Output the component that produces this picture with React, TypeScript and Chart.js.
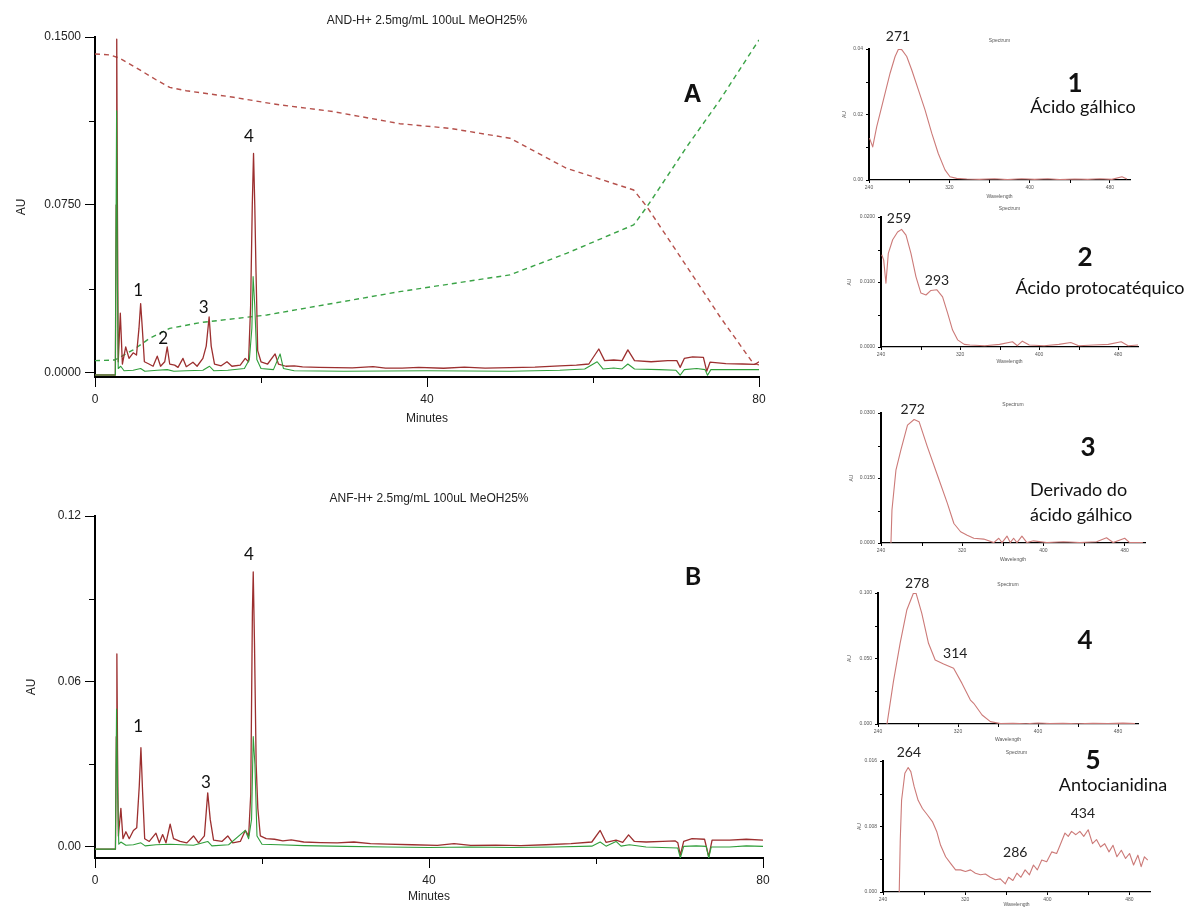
import React, { useEffect, useRef } from "react";
import { Chart, registerables } from "chart.js";

Chart.register(...registerables);

type Pt = [number, number];

// ================= Chromatogram axes =================
const minutesTicks = [0, 20, 40, 60, 80];
const minutesLabels = [0, 40, 80];
const auTicksA = [0, 0.0375, 0.075, 0.1125, 0.15];
const auLabelsA = [0, 0.075, 0.15];
const auTicksB = [0, 0.03, 0.06, 0.09, 0.12];
const auLabelsB = [0, 0.06, 0.12];

// ================= Chromatogram A (AND-H+) =================
const titleA = "AND-H+ 2.5mg/mL 100uL MeOH25%";
const redTraceA: Pt[] = [
  [0, -0.0009], [2.45, -0.0009], [2.55, 0.075], [2.62, 0.149], [2.7, 0.075], [2.8, 0.005],
  [3.05, 0.0267], [3.3, 0.004], [3.7, 0.0116], [4.1, 0.0065], [4.6, 0.009], [5.0, 0.008],
  [5.3, 0.02], [5.5, 0.031], [5.7, 0.02], [5.95, 0.005], [6.5, 0.004], [7.0, 0.003],
  [7.5, 0.0075], [7.9, 0.003], [8.4, 0.005], [8.7, 0.0116], [9.0, 0.004], [9.6, 0.0035],
  [10.0, 0.0025], [10.6, 0.0065], [11.0, 0.0028], [11.8, 0.0048], [12.3, 0.003], [13.0, 0.0065],
  [13.4, 0.012], [13.75, 0.025], [14.0, 0.012], [14.4, 0.004], [15.2, 0.0032], [15.9, 0.005],
  [16.5, 0.003], [17.5, 0.0035], [18.1, 0.0065], [18.5, 0.005], [18.75, 0.03], [18.95, 0.075],
  [19.1, 0.098], [19.25, 0.075], [19.4, 0.045], [19.6, 0.01], [20.0, 0.005], [20.8, 0.004],
  [21.7, 0.0085], [22.1, 0.004], [23, 0.003], [24, 0.0032], [25, 0.0027], [27, 0.0025],
  [29, 0.0024], [31, 0.0023], [33.5, 0.0028], [35, 0.0022], [37, 0.0022], [39, 0.0025],
  [42, 0.0021], [44.5, 0.0026], [47, 0.0022], [50, 0.0024], [53, 0.0026], [56, 0.0032],
  [58, 0.0035], [59.5, 0.004], [60.7, 0.0107], [61.4, 0.0055], [62.5, 0.0058], [63.5, 0.0055],
  [64.2, 0.0103], [65, 0.0055], [67, 0.005], [69, 0.0055], [70.1, 0.0055], [70.5, 0.0025],
  [71, 0.0065], [72, 0.0072], [73.3, 0.007], [73.7, 0.0008], [74.1, 0.0048], [76, 0.0042],
  [78, 0.004], [79.5, 0.0038], [80, 0.005],
];
const greenTraceA: Pt[] = [
  [0, -0.0009], [2.45, -0.0009], [2.6, 0.117], [2.7, 0.04], [2.8, 0.002], [3.1, 0.003],
  [3.5, 0.001], [4.6, 0.0012], [5.5, 0.002], [6, 0.0008], [7.5, 0.0012], [8.7, 0.0015],
  [9.5, 0.0008], [11, 0.001], [13, 0.0012], [13.8, 0.003], [14.3, 0.001], [16, 0.0012],
  [18, 0.002], [18.6, 0.006], [18.9, 0.02], [19.05, 0.043], [19.25, 0.03], [19.5, 0.006],
  [20, 0.002], [21.5, 0.0015], [22.3, 0.0085], [22.7, 0.002], [24, 0.001], [30, 0.0008],
  [40, 0.001], [50, 0.0008], [56, 0.0012], [59, 0.0018], [60.5, 0.005], [61.2, 0.0018],
  [62.5, 0.0022], [63.5, 0.0018], [64.2, 0.004], [65, 0.0018], [68, 0.0015], [70, 0.0012],
  [70.5, -0.001], [71, 0.0015], [72.5, 0.002], [73.5, 0.0015], [73.8, -0.001], [74.2, 0.0015],
  [80, 0.0015],
];
const redGradientA: Pt[] = [
  [0, 0.1424], [1.8, 0.142], [3, 0.1405], [5.4, 0.1353], [7.4, 0.1308], [9, 0.1275],
  [11, 0.126], [16.7, 0.1231], [21.5, 0.1201], [28.7, 0.1167], [36.7, 0.1113], [42.8, 0.1092],
  [50, 0.1048], [56.8, 0.0914], [64.9, 0.0817], [66.5, 0.0742], [71.3, 0.0475], [75.3, 0.0251],
  [79.3, 0.0043], [80, 0.0036],
];
const greenGradientA: Pt[] = [
  [0, 0.0055], [2.4, 0.0058], [4.6, 0.0103], [6.6, 0.0155], [9, 0.0199], [12.7, 0.0225],
  [20.7, 0.0259], [28.7, 0.0311], [36.7, 0.0363], [50, 0.0438], [56.8, 0.0534], [64.9, 0.0661],
  [66.5, 0.0742], [71.3, 0.101], [75.3, 0.1219], [80, 0.1487],
];
const peakNamesA = ["1", "2", "3", "4"];
const peakLabelPosA: Pt[] = [[5.2, 0.037], [8.2, 0.0156], [13.1, 0.029], [18.55, 0.1054]];
const panelPosA: Pt = [72.0, 0.1241];

// ================= Chromatogram B (ANF-H+) =================
const titleB = "ANF-H+ 2.5mg/mL 100uL MeOH25%";
const redTraceB: Pt[] = [
  [0, -0.0008], [2.45, -0.0008], [2.55, 0.04], [2.62, 0.07], [2.7, 0.035], [2.8, 0.004],
  [3.1, 0.014], [3.35, 0.003], [3.7, 0.0055], [4.1, 0.003], [4.6, 0.006], [5.0, 0.007],
  [5.3, 0.022], [5.5, 0.036], [5.7, 0.02], [5.95, 0.003], [6.5, 0.002], [7.3, 0.005],
  [7.7, 0.0015], [8.1, 0.0045], [8.5, 0.0015], [9.0, 0.0083], [9.4, 0.003], [10.2, 0.002],
  [11.0, 0.0015], [11.8, 0.004], [12.4, 0.0015], [13.1, 0.004], [13.5, 0.0196], [13.8, 0.01],
  [14.2, 0.0025], [15.2, 0.002], [15.9, 0.004], [16.5, 0.0015], [17.4, 0.002], [18.0, 0.006],
  [18.4, 0.004], [18.65, 0.019], [18.85, 0.085], [18.95, 0.0997], [19.1, 0.074], [19.3, 0.03],
  [19.5, 0.014], [19.8, 0.004], [20.5, 0.003], [21.5, 0.0028], [22.5, 0.0022], [23.5, 0.0026],
  [25, 0.0018], [27, 0.0016], [29, 0.0015], [31, 0.0018], [33, 0.0012], [35, 0.001],
  [38, 0.0008], [41, 0.0006], [43, 0.0012], [45, 0.0006], [48, 0.0007], [51, 0.0005],
  [54, 0.0008], [57, 0.0012], [59.5, 0.0018], [60.5, 0.006], [61.2, 0.0017], [62.4, 0.0025],
  [63.2, 0.0017], [63.9, 0.0044], [64.6, 0.002], [66, 0.0018], [68, 0.002], [69.5, 0.0022],
  [69.8, 0.0015], [70.1, -0.003], [70.5, 0.002], [71.5, 0.003], [73.0, 0.0028], [73.5, -0.0035],
  [73.9, 0.0025], [76, 0.0025], [78, 0.0028], [80, 0.0025],
];
const greenTraceB: Pt[] = [
  [0, -0.0008], [2.45, -0.0008], [2.58, 0.05], [2.7, 0.02], [2.85, 0.001], [3.1, 0.0018],
  [3.7, 0.0006], [4.6, 0.0008], [5.5, 0.0015], [6, 0.0004], [7.3, 0.0008], [9, 0.001],
  [11.8, 0.0006], [13.5, 0.002], [14, 0.0004], [16, 0.0008], [18, 0.006], [18.4, 0.003],
  [18.75, 0.01], [18.95, 0.04], [19.15, 0.03], [19.4, 0.004], [20, 0.001], [22, 0.0008],
  [25, 0.0005], [30, 0.0002], [35, 0.0], [40, -0.0002], [45, 0.0], [50, -0.0002], [55, 0.0],
  [59.5, 0.0003], [60.5, 0.0018], [61.2, 0.0003], [62.4, 0.002], [63, 0.0003], [64, 0.0008],
  [66, 0.0], [69.8, -0.0004], [70.1, -0.004], [70.5, 0.0002], [72, 0.0004], [73.2, 0.0002],
  [73.5, -0.004], [73.8, 0.0], [76, 0.0], [78, 0.0004], [80, 0.0002],
];
const peakNamesB = ["1", "3", "4"];
const peakLabelPosB: Pt[] = [[5.18, 0.0435], [13.3, 0.0232], [18.44, 0.1059]];
const panelPosB: Pt = [71.6, 0.0979];

// ================= UV spectra =================
const wavelengthTicks = [240, 280, 320, 360, 400, 440, 480];
const wavelengthLabels = [240, 320, 400, 480];

const spectrum1: Pt[] = [
  [240.5, 0.0128], [243.7, 0.0101], [247.7, 0.0163], [254.3, 0.0244], [261, 0.0326], [266, 0.0377],
  [269.3, 0.0399], [272.6, 0.0398], [277.6, 0.0377], [282.6, 0.0336], [289.2, 0.0275], [295.8, 0.0214],
  [302.5, 0.0143], [309, 0.0081], [315.7, 0.0031], [320.7, 0.001], [327.3, 0.0005], [337.4, 0.0003],
  [350, 0.0002], [365, 0.0004], [378, 0.0001], [392, 0.0004], [405, 0.0002], [418, 0.0004],
  [430, 0.0001], [445, 0.0003], [458, 0.0002], [470, 0.0004], [482, 0.0002], [492, 0.001], [497, 0.0003],
];
const spectrum1Ticks = [0, 0.01, 0.02, 0.03, 0.04];
const spectrum1Labels = [0, 0.02, 0.04];

const spectrum2: Pt[] = [
  [240.7, 0.0142], [242.7, 0.0134], [245, 0.0098], [247.4, 0.0144], [251.8, 0.0165], [256.8, 0.0177],
  [260.8, 0.0181], [265.3, 0.0172], [270.3, 0.0144], [275.4, 0.0108], [280.4, 0.0083], [285.5, 0.008],
  [290.5, 0.0087], [296.6, 0.0088], [302.3, 0.0077], [307.4, 0.0052], [312.4, 0.0026], [317.5, 0.0011],
  [324.2, 0.0004], [330, 0.0003], [345, 0.0002], [360, 0.0004], [373, 0.0008], [378, 0.0002],
  [383, 0.0009], [390, 0.0003], [405, 0.0002], [420, 0.0004], [432, 0.0007], [440, 0.0002],
  [455, 0.0003], [470, 0.0004], [483, 0.0008], [490, 0.0002], [500, 0.0003],
];
const spectrum2Ticks = [0, 0.005, 0.01, 0.015, 0.02];
const spectrum2Labels = [0, 0.01, 0.02];

const spectrum3: Pt[] = [
  [249.8, 0], [250.8, 0.0076], [254.7, 0.0168], [259.6, 0.0215], [266.1, 0.0272], [272.6, 0.0285],
  [277.5, 0.028], [285.7, 0.0222], [295.5, 0.0157], [305.3, 0.0092], [311.8, 0.0045], [318.4, 0.0026],
  [324.9, 0.0018], [331.4, 0.0011], [341.2, 0.0009], [351, 0.0001], [356, 0.0011], [359.2, 0.0001],
  [364.1, 0.0016], [367.3, 0.0001], [370.6, 0.0011], [373.9, 0.0001], [378.8, 0.0016], [383.7, 0.0001],
  [390.2, 0.0005], [403.3, 0.0001], [419.6, 0.0003], [435.9, 0.0001], [452.3, 0.0003], [462.1, 0.0012],
  [468.6, 0.0001], [480, 0.0011], [484.9, 0.0001], [497.9, 0.0001],
];
const spectrum3Ticks = [0, 0.0075, 0.015, 0.0225, 0.03];
const spectrum3Labels = [0, 0.015, 0.03];

const spectrum4: Pt[] = [
  [249, 0], [251, 0.01], [255.4, 0.0323], [262.1, 0.0616], [268.8, 0.087], [275.4, 0.0998],
  [278.1, 0.0997], [283.8, 0.0845], [290.5, 0.0616], [297.2, 0.0488], [305.6, 0.0458], [315.6, 0.0425],
  [324, 0.031], [332.4, 0.0183], [335.7, 0.0158], [344.1, 0.0069], [352.4, 0.0018], [362.5, 0.0003],
  [375, 0.0006], [388, 0.0002], [400, 0.0008], [412, 0.0003], [425, 0.0006], [440, 0.0002],
  [455, 0.0005], [470, 0.0003], [485, 0.0007], [497, 0.0004],
];
const spectrum4Ticks = [0, 0.025, 0.05, 0.075, 0.1];
const spectrum4Labels = [0, 0.05, 0.1];

const spectrum5: Pt[] = [
  [255.8, 0], [256.8, 0.0063], [258.1, 0.0112], [261.3, 0.0145], [264.5, 0.0152], [267.1, 0.0147],
  [270.3, 0.0129], [274.2, 0.0112], [278.4, 0.0102], [283.3, 0.0094], [288.1, 0.0086], [292.3, 0.0074],
  [296.1, 0.0057], [301, 0.0043], [305.8, 0.0035], [310.7, 0.0027], [315.5, 0.0027], [320.3, 0.0025],
  [325.2, 0.0027], [330, 0.0023], [334.9, 0.0021], [339.7, 0.0022], [344.5, 0.0018], [349.4, 0.0015],
  [354.2, 0.0016], [359.1, 0.001], [362.3, 0.0018], [366.5, 0.0014], [370.4, 0.0023], [374.3, 0.0018],
  [378.4, 0.0027], [382.6, 0.0021], [386.5, 0.0033], [390.3, 0.0027], [394.6, 0.0039], [399.4, 0.0037],
  [404.3, 0.0049], [409.1, 0.0047], [413, 0.0059], [417.2, 0.0072], [420.4, 0.0068], [423.6, 0.0074],
  [427.8, 0.007], [431.7, 0.0074], [435.5, 0.0068], [439.8, 0.0076], [444, 0.0059], [447.9, 0.0064],
  [451.8, 0.0055], [455.9, 0.0059], [460.1, 0.0049], [464, 0.0057], [467.8, 0.0043], [472.1, 0.0051],
  [476.2, 0.0041], [480.1, 0.0047], [484, 0.0033], [488.2, 0.0045], [491.4, 0.0031], [494.6, 0.0043],
  [497.8, 0.0039],
];
const spectrum5Ticks = [0, 0.004, 0.008, 0.012, 0.016];
const spectrum5Labels = [0, 0.008, 0.016];

const lambdaMaxLabels1 = ["271"];
const lambdaMaxPos1: Pt[] = [[268.9, 0.0437]];
const lambdaMaxLabels2 = ["259", "293"];
const lambdaMaxPos2: Pt[] = [[258.2, 0.0198], [296.6, 0.0103]];
const lambdaMaxLabels3 = ["272"];
const lambdaMaxPos3: Pt[] = [[271.3, 0.0307]];
const lambdaMaxLabels4 = ["278", "314"];
const lambdaMaxPos4: Pt[] = [[279.2, 0.1076], [317.3, 0.0542]];
const lambdaMaxLabels5 = ["264", "286", "434"];
const lambdaMaxPos5: Pt[] = [[265.2, 0.017], [368.8, 0.0048], [434.6, 0.0096]];

// ================= helpers =================
const ARIAL = "'Liberation Sans', Arial, sans-serif";
const CALIBRI = "Lato, 'Noto Sans', sans-serif";

type Box = { left: number; top: number; width: number; height: number };
type Plot = { left: number; top: number; right: number; bottom: number };
type TextItem = { text: string; x?: number; y?: number; dy?: number; font: string; color?: string };

const near = (a: number, list: number[]) => list.some((b) => Math.abs(a - b) < 1e-9);

function textPlugin(items: TextItem[]) {
  return {
    id: "textItems",
    afterDraw(chart: any) {
      const { ctx, scales, chartArea } = chart;
      ctx.save();
      ctx.textAlign = "center";
      ctx.textBaseline = "middle";
      for (const it of items) {
        ctx.font = it.font;
        ctx.fillStyle = it.color || "#111";
        let px: number, py: number;
        if (it.x === undefined) {
          px = (chartArea.left + chartArea.right) / 2;
          py = chartArea.top + (it.dy || 0);
        } else {
          px = scales.x.getPixelForValue(it.x);
          py = scales.y.getPixelForValue(it.y);
        }
        ctx.fillText(it.text, px, py);
      }
      ctx.restore();
    },
  };
}

function minorTickPlugin(xMinor: number[], yMinor: number[], len: number) {
  return {
    id: "minorTicks",
    afterDraw(chart: any) {
      const { ctx, scales } = chart;
      ctx.save();
      ctx.strokeStyle = "#000";
      ctx.lineWidth = 1;
      ctx.beginPath();
      for (const v of xMinor) {
        const px = Math.round(scales.x.getPixelForValue(v)) + 0.5;
        ctx.moveTo(px, scales.x.top);
        ctx.lineTo(px, scales.x.top + len);
      }
      for (const v of yMinor) {
        const py = Math.round(scales.y.getPixelForValue(v)) + 0.5;
        ctx.moveTo(scales.y.right - len, py);
        ctx.lineTo(scales.y.right, py);
      }
      ctx.stroke();
      ctx.restore();
    },
  };
}

type Series = { data: Pt[]; color: string; width: number; dash?: number[] };

type Spec = {
  box: Box;
  plot: Plot;
  xMin: number; xMax: number; xTicks: number[]; xLabels: number[];
  yMin: number; yMax: number; yTicks: number[]; yLabels: number[]; yDigits: number;
  series: Series[];
  texts: TextItem[];
  tickSize: number; tickLen: number; minorLen: number;
  xTickPad: number; yTickPad: number;
  xTitle: string; yTitle: string; titleSize: number;
  xTitleY: number; yTitleX: number;
  yBorder: number; xBorder: number;
  textColor: string;
};

function buildConfig(s: Spec): any {
  const yAxisW = s.plot.left - s.box.left;
  const padTop = s.plot.top - s.box.top;
  const padRight = s.box.left + s.box.width - s.plot.right;
  const xAxisH = s.box.top + s.box.height - s.plot.bottom;
  const lh = s.titleSize * 1.2;
  const xTitlePb = s.box.top + s.box.height - lh / 2 - s.xTitleY;
  const yTitlePt = s.yTitleX - s.box.left - lh / 2;
  const xMinor = s.xTicks.filter((v) => !near(v, s.xLabels));
  const yMinor = s.yTicks.filter((v) => !near(v, s.yLabels));
  const majorColor = (list: number[]) => (c: any) =>
    c.tick && near(c.tick.value, list) ? "#000" : "rgba(0,0,0,0)";
  return {
    type: "line",
    data: {
      datasets: s.series.map((se) => ({
        data: se.data.map(([x, y]) => ({ x, y })),
        borderColor: se.color,
        borderWidth: se.width,
        borderDash: se.dash || [],
        borderJoinStyle: "round",
        pointRadius: 0,
        tension: 0,
        fill: false,
      })),
    },
    options: {
      responsive: false,
      maintainAspectRatio: false,
      animation: false,
      events: [],
      layout: { padding: { top: padTop, right: padRight, left: 0, bottom: 0 } },
      plugins: { legend: { display: false }, tooltip: { enabled: false }, title: { display: false } },
      scales: {
        x: {
          type: "linear",
          min: s.xMin,
          max: s.xMax,
          afterBuildTicks: (sc: any) => {
            sc.ticks = s.xTicks.map((v) => ({ value: v }));
          },
          afterFit: (sc: any) => {
            sc.height = xAxisH;
          },
          ticks: {
            autoSkip: false,
            maxRotation: 0,
            minRotation: 0,
            padding: s.xTickPad,
            color: s.textColor,
            font: { family: ARIAL, size: s.tickSize },
            callback: (v: any) => (near(Number(v), s.xLabels) ? String(v) : ""),
          },
          grid: {
            display: true,
            drawOnChartArea: false,
            drawTicks: true,
            tickLength: s.tickLen,
            tickWidth: 1,
            tickColor: majorColor(s.xLabels),
          },
          border: { display: true, color: "#000", width: s.xBorder },
          title: {
            display: true,
            text: s.xTitle,
            color: s.textColor,
            font: { family: ARIAL, size: s.titleSize },
            padding: { top: 0, bottom: xTitlePb },
          },
        },
        y: {
          type: "linear",
          min: s.yMin,
          max: s.yMax,
          afterBuildTicks: (sc: any) => {
            sc.ticks = s.yTicks.map((v) => ({ value: v }));
          },
          afterFit: (sc: any) => {
            sc.width = yAxisW;
          },
          ticks: {
            autoSkip: false,
            padding: s.yTickPad,
            color: s.textColor,
            font: { family: ARIAL, size: s.tickSize },
            callback: (v: any) => (near(Number(v), s.yLabels) ? Number(v).toFixed(s.yDigits) : ""),
          },
          grid: {
            display: true,
            drawOnChartArea: false,
            drawTicks: true,
            tickLength: s.tickLen,
            tickWidth: 1,
            tickColor: majorColor(s.yLabels),
          },
          border: { display: true, color: "#000", width: s.yBorder },
          title: {
            display: true,
            text: s.yTitle,
            color: s.textColor,
            font: { family: ARIAL, size: s.titleSize },
            padding: { top: yTitlePt, bottom: 0 },
          },
        },
      },
    },
    plugins: [textPlugin(s.texts), minorTickPlugin(xMinor, yMinor, s.minorLen)],
  };
}

function ChartBox({ spec }: { spec: Spec }) {
  const ref = useRef<HTMLCanvasElement>(null);
  useEffect(() => {
    const chart = new Chart(ref.current as HTMLCanvasElement, buildConfig(spec));
    return () => chart.destroy();
  }, []);
  const { left, top, width, height } = spec.box;
  return (
    <canvas
      ref={ref}
      width={width}
      height={height}
      style={{ position: "absolute", left, top, width, height }}
    />
  );
}

// ================= specs =================
const RED = "#9c2f2f";
const GREEN = "#2f9e3a";
const SPEC_COLOR = "#cc7a78";

const chromCommon = {
  xMin: 0, xMax: 80, xTicks: minutesTicks, xLabels: minutesLabels,
  tickSize: 12, tickLen: 10, minorLen: 6, xTickPad: 5, yTickPad: 4,
  xTitle: "Minutes", yTitle: "AU", titleSize: 12, yBorder: 2, xBorder: 2, textColor: "#222",
};

const specA: Spec = {
  ...chromCommon,
  box: { left: 0, top: 0, width: 800, height: 430 },
  plot: { left: 95, top: 37, right: 759, bottom: 377 },
  yMin: -0.0018, yMax: 0.15, yTicks: auTicksA, yLabels: auLabelsA, yDigits: 4,
  xTitleY: 419, yTitleX: 22,
  series: [
    { data: greenTraceA, color: GREEN, width: 1.1 },
    { data: redTraceA, color: RED, width: 1.3 },
    { data: redGradientA, color: "#b5504b", width: 1.4, dash: [5, 4] },
    { data: greenGradientA, color: "#3aa346", width: 1.4, dash: [5, 4] },
  ],
  texts: [
    { text: titleA, dy: -16, font: `12px ${ARIAL}`, color: "#222" },
    ...peakNamesA.map((t, i) => ({ text: t, x: peakLabelPosA[i][0], y: peakLabelPosA[i][1], font: `17px ${CALIBRI}` })),
    { text: "A", x: panelPosA[0], y: panelPosA[1], font: `bold 25px ${ARIAL}` },
  ],
};

const specB: Spec = {
  ...chromCommon,
  box: { left: 0, top: 470, width: 800, height: 438 },
  plot: { left: 95, top: 516, right: 763, bottom: 858 },
  yMin: -0.004, yMax: 0.12, yTicks: auTicksB, yLabels: auLabelsB, yDigits: 2,
  xTitleY: 897, yTitleX: 32,
  series: [
    { data: greenTraceB, color: GREEN, width: 1.1 },
    { data: redTraceB, color: RED, width: 1.3 },
  ],
  texts: [
    { text: titleB, dy: -17, font: `12px ${ARIAL}`, color: "#222" },
    ...peakNamesB.map((t, i) => ({ text: t, x: peakLabelPosB[i][0], y: peakLabelPosB[i][1], font: `17px ${CALIBRI}` })),
    { text: "B", x: panelPosB[0], y: panelPosB[1], font: `bold 25px ${CALIBRI}` },
  ],
};

const spectrumCommon = {
  xMin: 240, xMax: 500, xTicks: wavelengthTicks, xLabels: wavelengthLabels,
  tickSize: 5, tickLen: 3, minorLen: 3, xTickPad: 2, yTickPad: 3,
  xTitle: "Wavelength", yTitle: "AU", titleSize: 5, yBorder: 2, xBorder: 1.3, textColor: "#555",
  yMin: 0,
};

function spectrumSpec(
  box: Box, plot: Plot, data: Pt[], yMax: number, yTicks: number[], yLabels: number[], yDigits: number,
  names: string[], pos: Pt[], xTitleY: number, yTitleX: number
): Spec {
  return {
    ...spectrumCommon,
    box, plot, yMax, yTicks, yLabels, yDigits, xTitleY, yTitleX,
    series: [{ data, color: SPEC_COLOR, width: 1.1 }],
    texts: [
      { text: "Spectrum", dy: -8, font: `5px ${ARIAL}`, color: "#555" },
      ...names.map((t, i) => ({ text: t, x: pos[i][0], y: pos[i][1], font: `14px ${CALIBRI}`, color: "#222" })),
    ],
  };
}

const spec1 = spectrumSpec(
  { left: 830, top: 28, width: 330, height: 180 }, { left: 869, top: 49, right: 1130, bottom: 180 },
  spectrum1, 0.04, spectrum1Ticks, spectrum1Labels, 2, lambdaMaxLabels1, lambdaMaxPos1, 197, 845
);
const spec2 = spectrumSpec(
  { left: 830, top: 200, width: 330, height: 175 }, { left: 881, top: 217, right: 1138, bottom: 347 },
  spectrum2, 0.02, spectrum2Ticks, spectrum2Labels, 4, lambdaMaxLabels2, lambdaMaxPos2, 362, 850
);
const spec3 = spectrumSpec(
  { left: 830, top: 385, width: 330, height: 190 }, { left: 881, top: 413, right: 1145, bottom: 543 },
  spectrum3, 0.03, spectrum3Ticks, spectrum3Labels, 4, lambdaMaxLabels3, lambdaMaxPos3, 560, 852
);
const spec4 = spectrumSpec(
  { left: 830, top: 575, width: 330, height: 175 }, { left: 878, top: 593, right: 1138, bottom: 724 },
  spectrum4, 0.1, spectrum4Ticks, spectrum4Labels, 3, lambdaMaxLabels4, lambdaMaxPos4, 740, 850
);
const spec5 = spectrumSpec(
  { left: 830, top: 745, width: 330, height: 163 }, { left: 883, top: 761, right: 1150, bottom: 892 },
  spectrum5, 0.016, spectrum5Ticks, spectrum5Labels, 3, lambdaMaxLabels5, lambdaMaxPos5, 905, 860
);

// compound captions (HTML text next to the spectra)
type Caption = { text: string; x: number; y: number; size: number; bold?: boolean; align?: "center" | "left" };
const captions: Caption[] = [
  { text: "1", x: 1075, y: 83, size: 26, bold: true },
  { text: "Ácido gálhico", x: 1083, y: 107, size: 18 },
  { text: "2", x: 1085, y: 257, size: 26, bold: true },
  { text: "Ácido protocatéquico", x: 1100, y: 288, size: 18 },
  { text: "3", x: 1088, y: 447, size: 26, bold: true },
  { text: "Derivado do", x: 1030, y: 490, size: 18, align: "left" },
  { text: "ácido gálhico", x: 1030, y: 515, size: 18, align: "left" },
  { text: "4", x: 1085, y: 640, size: 26, bold: true },
  { text: "5", x: 1093, y: 760, size: 26, bold: true },
  { text: "Antocianidina", x: 1113, y: 785, size: 18 },
];

export default function App() {
  return (
    <div
      style={{
        position: "absolute",
        left: 0,
        top: 0,
        width: 1190,
        height: 908,
        overflow: "hidden",
        background: "#fff",
      }}
    >
      <ChartBox spec={specA} />
      <ChartBox spec={specB} />
      <ChartBox spec={spec1} />
      <ChartBox spec={spec2} />
      <ChartBox spec={spec3} />
      <ChartBox spec={spec4} />
      <ChartBox spec={spec5} />
      {captions.map((c, i) => (
        <div
          key={i}
          style={{
            position: "absolute",
            left: c.x,
            top: c.y,
            transform: c.align === "left" ? "translate(0,-50%)" : "translate(-50%,-50%)",
            fontFamily: CALIBRI,
            fontSize: c.size,
            fontWeight: c.bold ? 700 : 400,
            color: "#111",
            whiteSpace: "nowrap",
            lineHeight: 1.2,
          }}
        >
          {c.text}
        </div>
      ))}
    </div>
  );
}
